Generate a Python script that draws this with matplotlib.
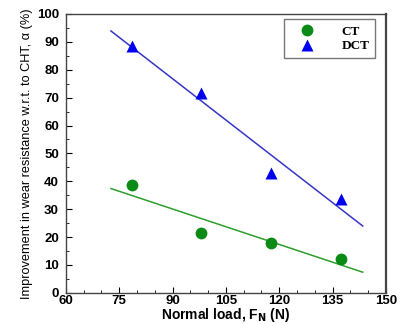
import numpy as np
import matplotlib.pyplot as plt
from matplotlib.ticker import MultipleLocator

# normal load (N) and improvement in wear resistance (%)
loads = [78.5, 98.1, 117.7, 137.3]
ct_vals = [38.5, 21.5, 18.0, 12.0]
dct_vals = [88.5, 71.5, 43.0, 33.5]
fit_range = [72.7, 143.5]

fig = plt.figure(figsize=(3.99, 3.24), dpi=100)
ax = fig.add_axes([0.165, 0.096, 0.802, 0.861])

xs = np.array(fit_range)
p_ct = np.polyfit(loads, ct_vals, 1)
p_dct = np.polyfit(loads, dct_vals, 1)
ax.plot(xs, np.polyval(p_ct, xs), color='#2e9e2e', lw=1.1)
ax.plot(xs, np.polyval(p_dct, xs), color='#3535c8', lw=1.1)

ax.plot(loads, ct_vals, 'o', color='#0b8a16', ms=8.5, mec='none', label='CT')
ax.plot(loads, dct_vals, '^', color='#0000f0', ms=9, mec='none', label='DCT')

ax.set_xlim(60, 150)
ax.set_ylim(0, 100)
ax.xaxis.set_major_locator(MultipleLocator(15))
ax.xaxis.set_minor_locator(MultipleLocator(5))
ax.yaxis.set_major_locator(MultipleLocator(10))
ax.yaxis.set_minor_locator(MultipleLocator(5))
ax.tick_params(which='both', direction='in', top=False, right=False,
               labelsize=9.5)
ax.tick_params(axis='x', pad=1.5)
ax.tick_params(axis='y', pad=5)
ax.tick_params(which='major', length=4)
ax.tick_params(which='minor', length=2.5)
for lab in ax.get_xticklabels() + ax.get_yticklabels():
    lab.set_fontweight('bold')
    lab.set_family(['Liberation Sans', 'DejaVu Sans'])
for s in ax.spines.values():
    s.set_color('#444444')
    s.set_linewidth(1.0)
ax.spines['right'].set_linewidth(1.6)

ax.set_xlabel('Normal load, F$_\\mathbf{N}$ (N)', fontsize=10, fontweight='bold',
              family=['Liberation Sans', 'DejaVu Sans'], labelpad=-0.5)
ax.set_ylabel('Improvement in wear resistance w.r.t. to CHT, \u03b1 (%)', fontsize=9.2,
              family=['Liberation Sans', 'DejaVu Sans'], labelpad=3)

leg = ax.legend(loc='upper right', fancybox=False, frameon=True, edgecolor='#555555',
                prop={'family': ['Liberation Serif', 'DejaVu Serif'], 'weight': 'bold', 'size': 9.5},
                handlelength=2.6, handletextpad=1.3, borderpad=0.45, labelspacing=0.2,
                bbox_to_anchor=(0.975, 0.99), borderaxespad=0.2)
leg.get_frame().set_linewidth(1.0)

fig.savefig('out.png', dpi=100)
